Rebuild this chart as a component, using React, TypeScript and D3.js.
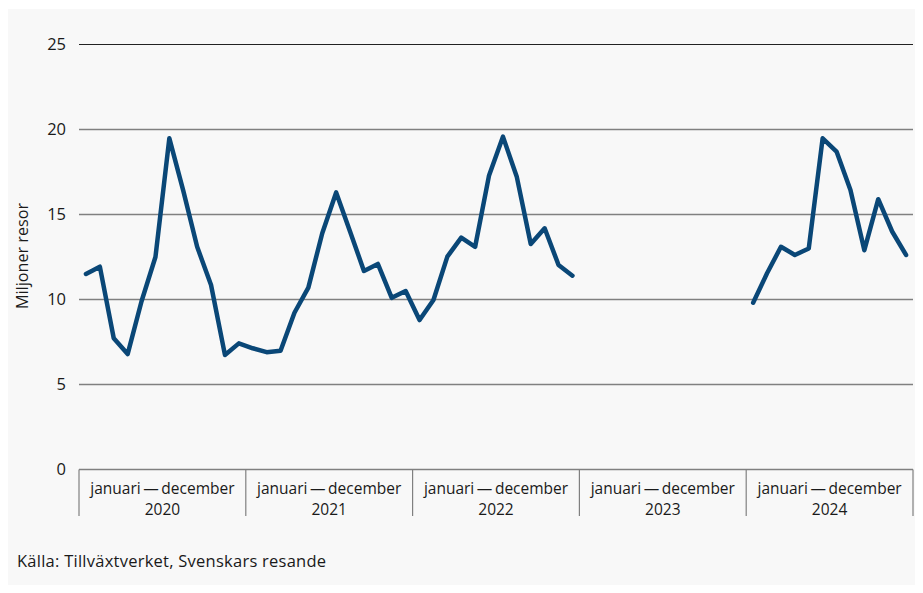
import React from "react";
import * as d3 from "d3";

const years = ["2020", "2021", "2022", "2023", "2024"];
const periodLabel = "januari\u2009—\u2009december";
const yTicks = [0, 5, 10, 15, 20, 25];
const v2020 = [11.5, 11.93, 7.72, 6.79, 9.9, 12.5, 19.48, 16.4, 13.1, 10.85, 6.74, 7.42];
const v2021 = [7.13, 6.9, 6.99, 9.22, 10.7, 13.9, 16.3, 14.0, 11.68, 12.09, 10.1, 10.5];
const v2022 = [8.79, 9.97, 12.52, 13.64, 13.1, 17.3, 19.58, 17.2, 13.26, 14.19, 12.03, 11.4];
const v2023: (number | null)[] = [null, null, null, null, null, null, null, null, null, null, null, null];
const v2024 = [9.81, 11.54, 13.1, 12.62, 13.0, 19.48, 18.7, 16.44, 12.9, 15.9, 14.0, 12.62];
const yTitle = "Miljoner resor";
const source = "Källa: Tillväxtverket, Svenskars resande";

const W = 923;
const H = 593;
const FONT = "'Open Sans', sans-serif";

export default function App() {
  const left = 79;
  const right = 913;
  const top = 44.5;
  const bottom = 469.5;
  const all = [v2020, v2021, v2022, v2023, v2024].flat();
  const n = all.length;
  const x = d3.scaleLinear().domain([0, n]).range([left, right]);
  const y = d3.scaleLinear().domain([0, 25]).range([bottom, top]);
  const line = d3
    .line<number | null>()
    .defined((d) => d !== null)
    .x((_, i) => x(i + 0.5))
    .y((d) => y(d as number));
  const yearX = d3.scaleBand().domain(years).range([left, right]);

  return (
    <div style={{ margin: -8 }}>
      <svg width={W} height={H} style={{ display: "block", fontFamily: FONT }}>
        <rect x={0} y={0} width={W} height={H} fill="#ffffff" />
        <rect x={6} y={9} width={W - 6} height={H - 9} fill="#f8f8f8" />
        {yTicks.map((t) => (
          <g key={t}>
            {t > 0 && (
              <line
                x1={left}
                x2={right}
                y1={y(t)}
                y2={y(t)}
                stroke={t === 25 ? "#222222" : "#808080"}
                strokeWidth={t === 25 ? 1 : 1.4}
              />
            )}
            <text x={66} y={y(t)} dy="0.35em" textAnchor="end" fontSize={16.5} fill="#1a1a1a">
              {t}
            </text>
          </g>
        ))}
        <line x1={left} x2={right} y1={bottom} y2={bottom} stroke="#808080" strokeWidth={1.4} />
        {years.map((yr, i) => (
          <g key={yr}>
            <line
              x1={(yearX(yr) as number)}
              x2={(yearX(yr) as number)}
              y1={bottom}
              y2={516}
              stroke="#808080"
              strokeWidth={1.2}
            />
            <text
              x={(yearX(yr) as number) + yearX.bandwidth() / 2}
              y={494}
              textAnchor="middle"
              fontSize={15.5}
              fill="#1a1a1a"
            >
              {periodLabel}
            </text>
            <text
              x={(yearX(yr) as number) + yearX.bandwidth() / 2}
              y={515}
              textAnchor="middle"
              fontSize={15.5}
              fill="#1a1a1a"
            >
              {yr}
            </text>
            {i === years.length - 1 && (
              <line x1={right} x2={right} y1={bottom} y2={516} stroke="#808080" strokeWidth={1.2} />
            )}
          </g>
        ))}
        <path
          d={line(all) || ""}
          fill="none"
          stroke="#0a4777"
          strokeWidth={4.5}
          strokeLinejoin="round"
          strokeLinecap="round"
        />
        <text
          transform={`translate(28,256) rotate(-90)`}
          textAnchor="middle"
          fontSize={16.2}
          fill="#1a1a1a"
        >
          {yTitle}
        </text>
        <text x={17} y={567} fontSize={16.5} letterSpacing={0.25} fill="#1a1a1a">
          {source}
        </text>
      </svg>
    </div>
  );
}
